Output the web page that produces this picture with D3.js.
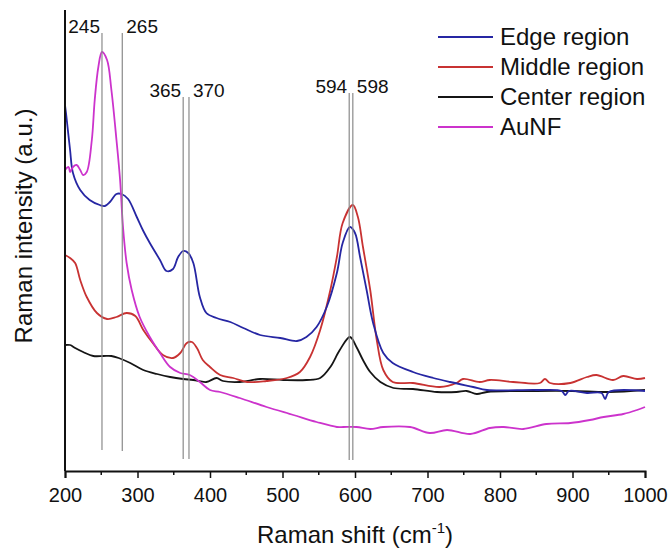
<!DOCTYPE html>
<html>
<head>
<meta charset="utf-8">
<script src="https://cdn.jsdelivr.net/npm/d3@7"></script>
<style>
  body { margin: 0; background: #fff; }
  text { font-family: Arial, "Liberation Sans", sans-serif; fill: #111; }
</style>
</head>
<body>
<div id="chart"></div>
<script>
// Raman spectra, shift (cm-1) and intensity (a.u.)
var edgeShift = [200,202,207,211,221,234,248,255,262,271,278,287,299,308,317,331,340,349,356,363,370,377,386,395,409,428,446,469,497,520,533,547,561,575,583,593,600,607,616,625,639,652,680,708,731,763,782,850,885,890,895,920,940,945,950,1000]
var edgeInt   = [366,354,321,298,281,271,266,265,269,277,277,272,254,240,228,211,200,202,214,220,218,208,174,158,153,149,143,136,133,130,134,144,164,198,228,244,238,214,181,148,118,108,99,93,89,84,81,81,80,76,80,78,78,72,79,80]

var middleShift = [200,207,214,221,230,244,258,271,285,297,308,321,335,349,359,368,375,382,390,400,414,432,451,478,506,524,538,552,566,575,583,597,604,611,621,630,639,652,680,717,740,749,772,786,818,855,862,869,897,920,933,956,970,989,1000]
var middleInt   = [216,213,208,191,174,158,152,154,158,155,141,128,116,113,118,128,129,123,111,104,96,93,89,90,93,99,114,141,181,214,248,266,254,224,181,131,101,89,88,84,88,92,89,91,89,88,92,88,88,94,96,91,95,92,93]

var centerShift = [200,207,214,225,239,253,264,274,290,308,327,345,363,377,395,409,418,441,469,501,533,552,566,579,593,602,611,621,635,653,680,713,740,754,768,782,850,900,950,1000]
var centerInt   = [126,126,123,119,115,115,115,113,108,101,97,94,92,91,89,93,90,89,92,91,91,93,104,121,134,124,111,99,89,83,82,79,79,80,77,79,80,80,79,81]

var aunfShift = [200,205,207,211,216,221,225,230,237,241,246,251,258,264,271,276,280,285,292,303,317,331,345,359,372,386,400,414,441,478,515,547,575,584,602,621,639,676,703,727,759,786,805,832,864,897,924,943,970,989,1000]
var aunfInt   = [301,304,299,304,306,301,296,299,331,371,404,419,411,381,331,291,244,208,181,154,134,118,104,98,96,89,81,79,73,64,56,49,44,44,44,42,44,44,38,41,37,43,44,42,47,48,51,54,57,61,64]

var seriesNames  = ["Edge region", "Middle region", "Center region", "AuNF"]
var seriesColors = ["#2626a3", "#c83232", "#151515", "#cc33cc"]

// marked peaks: where the gray line sits, and its label
var peakLinePos = [251, 279, 363, 371, 592, 597]
var peakLabels  = ["245", "265", "365", "370", "594", "598"]
var peakTop     = [438, 438, 374, 374, 378, 378]
var peakBottom  = [21, 20, 12, 12, 11, 11]

var xTicks = [200,300,400,500,600,700,800,900,1000]

const svgWidth = 669
const svgHeight = 550
var padLeft = 65, padRight = 645, padTop = 10, padBottom = 471

var svg = d3.select("#chart").append("svg")
    .attr("width", svgWidth)
    .attr("height", svgHeight)

var x = d3.scaleLinear().domain([200, 1000]).range([padLeft, padRight])
var y = d3.scaleLinear().domain([0, 461]).range([padBottom, padTop])

var series = [
    {shift: edgeShift, val: edgeInt},
    {shift: middleShift, val: middleInt},
    {shift: centerShift, val: centerInt},
    {shift: aunfShift, val: aunfInt}
]

var line = d3.line()
    .x(d => x(d[0]))
    .y(d => y(d[1]))
    .curve(d3.curveCatmullRom.alpha(0.5))

// draw center first so edge/middle/aunf sit on top
var drawOrder = [2, 1, 0, 3]
drawOrder.forEach(function(i) {
    var pts = series[i].shift.map((s, j) => [s, series[i].val[j]])
    svg.append("path")
        .attr("d", line(pts))
        .attr("fill", "none")
        .attr("stroke", seriesColors[i])
        .attr("stroke-width", 1.8)
        .attr("stroke-linejoin", "round")
})

// peak marker lines
svg.selectAll(".peak")
    .data(peakLinePos)
    .enter()
    .append("line")
    .attr("x1", d => x(d))
    .attr("x2", d => x(d))
    .attr("y1", (d, i) => y(peakTop[i]))
    .attr("y2", (d, i) => y(peakBottom[i]))
    .style("stroke", "#8a8a8a")
    .style("stroke-width", "1.2px")

svg.selectAll(".peaklabel")
    .data(peakLabels)
    .enter()
    .append("text")
    .attr("x", (d, i) => i % 2 === 0 ? x(peakLinePos[i]) - 2 : x(peakLinePos[i]) + 4)
    .attr("y", (d, i) => y(peakTop[i]))
    .attr("text-anchor", (d, i) => i % 2 === 0 ? "end" : "start")
    .style("font-size", "19px")
    .text(d => d)

// axes
var xAxis = d3.axisBottom(x)
    .tickValues(xTicks)
    .tickSize(7)
    .tickPadding(10)
    .tickFormat(d3.format("d"))

var gx = svg.append("g")
    .attr("transform", "translate(0," + padBottom + ")")
    .call(xAxis)
gx.select(".domain").attr("stroke", "#111").attr("stroke-width", 2)
gx.selectAll(".tick line").attr("stroke", "#111").attr("stroke-width", 1.5)
gx.selectAll(".tick text")
    .style("font-size", "20px")
    .style("font-family", "Arial, 'Liberation Sans', sans-serif")
    .attr("fill", "#111")

var minorTicks = d3.range(250, 1000, 100)
gx.selectAll(".minor")
    .data(minorTicks)
    .enter()
    .append("line")
    .attr("x1", d => x(d))
    .attr("x2", d => x(d))
    .attr("y1", 0)
    .attr("y2", 4)
    .attr("stroke", "#111")
    .attr("stroke-width", 1.5)

svg.append("line")
    .attr("x1", padLeft).attr("x2", padLeft)
    .attr("y1", padTop).attr("y2", padBottom)
    .attr("stroke", "#111")
    .attr("stroke-width", 2)

// axis titles
var xt = svg.append("text")
    .attr("x", (padLeft + padRight) / 2)
    .attr("y", 543)
    .attr("text-anchor", "middle")
    .style("font-size", "24px")
xt.append("tspan").text("Raman shift (cm")
xt.append("tspan").attr("dy", -10).style("font-size", "15px").text("-1")
xt.append("tspan").attr("dy", 10).text(")")

svg.append("text")
    .attr("transform", "translate(32," + 226 + ") rotate(-90)")
    .attr("text-anchor", "middle")
    .style("font-size", "24px")
    .text("Raman intensity (a.u.)")

// legend
var legend = svg.selectAll(".legend")
    .data(seriesNames)
    .enter()
    .append("g")
    .attr("transform", (d, i) => "translate(438," + (37 + i * 30) + ")")

legend.append("line")
    .attr("x1", 0).attr("x2", 55)
    .attr("y1", 0).attr("y2", 0)
    .attr("stroke", (d, i) => seriesColors[i])
    .attr("stroke-width", 1.8)

legend.append("text")
    .attr("x", 62)
    .attr("y", 0)
    .attr("dy", "0.35em")
    .style("font-size", "24px")
    .text(d => d)
</script>
</body>
</html>
